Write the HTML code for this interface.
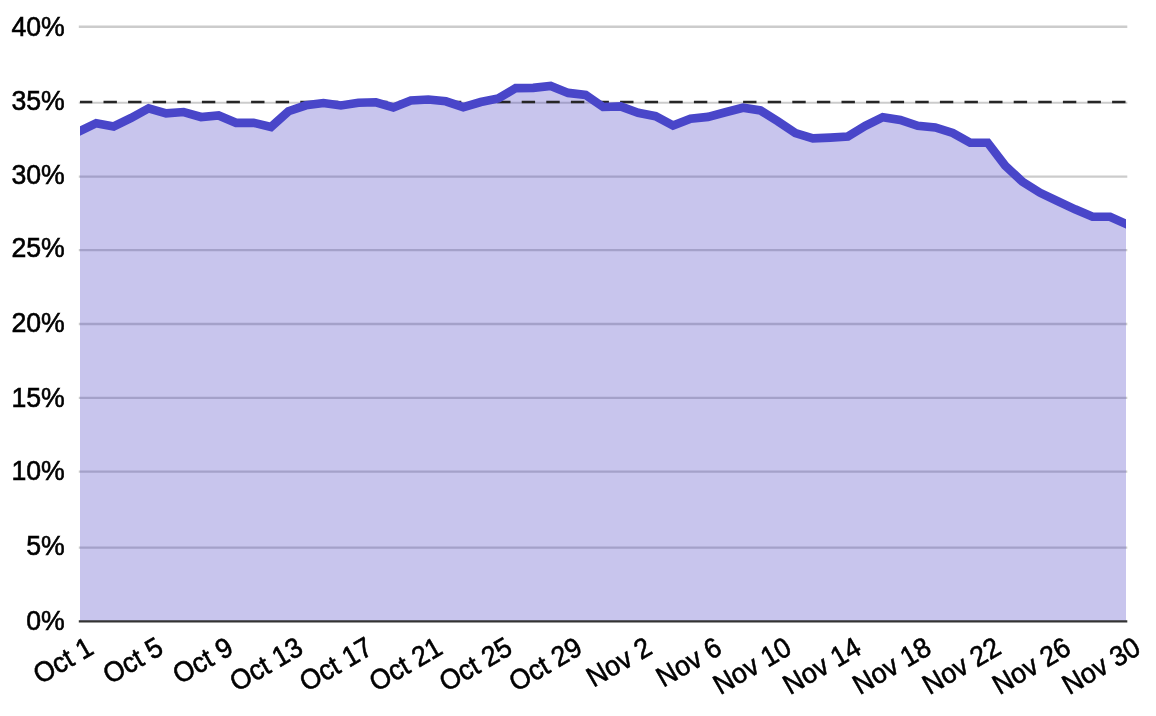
<!DOCTYPE html>
<html lang="en"><head><meta charset="utf-8"><title>Chart</title>
<style>
html,body{margin:0;padding:0;background:#fff;}
body{width:1156px;height:716px;overflow:hidden;}
svg{display:block;}
text{font-family:"Liberation Sans",Arial,sans-serif;font-size:28.1px;fill:#000;stroke:#000;stroke-width:0.6px;}
</style></head><body>
<svg width="1156" height="716" viewBox="0 0 1156 716">
<rect x="0" y="0" width="1156" height="716" fill="#ffffff"/>

<g stroke="#cccccc" stroke-width="2.3">
<line x1="78.8" y1="26.76" x2="1127.3" y2="26.76"/>
<line x1="78.8" y1="102.7" x2="1127.3" y2="102.7" stroke-width="1.9"/>
<line x1="78.8" y1="176.60" x2="1127.3" y2="176.60"/>
<line x1="78.8" y1="250.20" x2="1127.3" y2="250.20"/>
<line x1="78.8" y1="324.00" x2="1127.3" y2="324.00"/>
<line x1="78.8" y1="397.90" x2="1127.3" y2="397.90"/>
<line x1="78.8" y1="471.70" x2="1127.3" y2="471.70"/>
<line x1="78.8" y1="547.70" x2="1127.3" y2="547.70"/>
</g>
<clipPath id="cp"><rect x="80" y="0" width="1046" height="716"/></clipPath>
<path clip-path="url(#cp)" d="M78.73,621.40 L78.73,131.60 L96.21,123.20 L113.69,126.40 L131.17,118.00 L148.65,108.30 L166.13,113.40 L183.61,112.00 L201.09,117.00 L218.57,115.50 L236.05,122.80 L253.53,122.80 L271.01,127.00 L288.49,111.20 L305.97,105.30 L323.45,103.00 L340.93,105.50 L358.41,102.80 L375.89,102.30 L393.37,107.50 L410.85,100.50 L428.33,99.50 L445.81,101.30 L463.29,107.10 L480.77,102.00 L498.25,98.50 L515.73,88.10 L533.21,87.90 L550.69,86.00 L568.17,92.90 L585.65,95.00 L603.13,107.00 L620.61,106.40 L638.09,112.70 L655.57,116.20 L673.05,125.60 L690.53,118.70 L708.01,116.90 L725.49,112.30 L742.97,107.70 L760.45,110.50 L777.93,121.30 L795.41,133.10 L812.89,138.40 L830.37,137.60 L847.85,136.50 L865.33,125.90 L882.81,117.20 L900.29,119.90 L917.77,125.80 L935.25,127.40 L952.73,132.90 L970.21,142.70 L987.69,142.70 L1005.17,165.70 L1022.65,181.90 L1040.13,192.80 L1057.61,201.20 L1075.09,209.30 L1092.57,216.70 L1110.05,216.70 L1127.53,224.60 L1127.53,621.40 Z" fill="#4840c4" fill-opacity="0.3"/>
<line x1="78.8" y1="621.40" x2="1127.3" y2="621.40" stroke="#333333" stroke-width="2.3"/>
<line clip-path="url(#cp)" x1="78.9" y1="102.0" x2="1128" y2="102.0" stroke="#262626" stroke-width="2.7" stroke-dasharray="13.4 11.2"/>
<polyline clip-path="url(#cp)" points="61.25,140.00 78.73,131.60 96.21,123.20 113.69,126.40 131.17,118.00 148.65,108.30 166.13,113.40 183.61,112.00 201.09,117.00 218.57,115.50 236.05,122.80 253.53,122.80 271.01,127.00 288.49,111.20 305.97,105.30 323.45,103.00 340.93,105.50 358.41,102.80 375.89,102.30 393.37,107.50 410.85,100.50 428.33,99.50 445.81,101.30 463.29,107.10 480.77,102.00 498.25,98.50 515.73,88.10 533.21,87.90 550.69,86.00 568.17,92.90 585.65,95.00 603.13,107.00 620.61,106.40 638.09,112.70 655.57,116.20 673.05,125.60 690.53,118.70 708.01,116.90 725.49,112.30 742.97,107.70 760.45,110.50 777.93,121.30 795.41,133.10 812.89,138.40 830.37,137.60 847.85,136.50 865.33,125.90 882.81,117.20 900.29,119.90 917.77,125.80 935.25,127.40 952.73,132.90 970.21,142.70 987.69,142.70 1005.17,165.70 1022.65,181.90 1040.13,192.80 1057.61,201.20 1075.09,209.30 1092.57,216.70 1110.05,216.70 1127.53,224.60 1145.01,232.50" fill="none" stroke="#4946c9" stroke-width="8.65" stroke-linejoin="miter" stroke-linecap="butt"/>
<g text-anchor="end">
<text transform="translate(64.8,35.66) scale(0.95,1)" x="0" y="0">40%</text>
<text transform="translate(64.8,109.69) scale(0.95,1)" x="0" y="0">35%</text>
<text transform="translate(64.8,184.02) scale(0.95,1)" x="0" y="0">30%</text>
<text transform="translate(64.8,257.45) scale(0.95,1)" x="0" y="0">25%</text>
<text transform="translate(64.8,331.78) scale(0.95,1)" x="0" y="0">20%</text>
<text transform="translate(64.8,406.61) scale(0.95,1)" x="0" y="0">15%</text>
<text transform="translate(64.8,479.94) scale(0.95,1)" x="0" y="0">10%</text>
<text transform="translate(64.8,554.67) scale(0.95,1)" x="0" y="0">5%</text>
<text transform="translate(64.8,629.50) scale(0.95,1)" x="0" y="0">0%</text>
</g>
<g text-anchor="end">
<text transform="translate(95.40,652.90) rotate(-30) scale(0.95,1)" x="0" y="0">Oct 1</text>
<text transform="translate(165.20,652.90) rotate(-30) scale(0.95,1)" x="0" y="0">Oct 5</text>
<text transform="translate(235.00,652.90) rotate(-30) scale(0.95,1)" x="0" y="0">Oct 9</text>
<text transform="translate(304.80,652.90) rotate(-30) scale(0.95,1)" x="0" y="0">Oct 13</text>
<text transform="translate(374.60,652.90) rotate(-30) scale(0.95,1)" x="0" y="0">Oct 17</text>
<text transform="translate(444.40,652.90) rotate(-30) scale(0.95,1)" x="0" y="0">Oct 21</text>
<text transform="translate(514.20,652.90) rotate(-30) scale(0.95,1)" x="0" y="0">Oct 25</text>
<text transform="translate(584.00,652.90) rotate(-30) scale(0.95,1)" x="0" y="0">Oct 29</text>
<text transform="translate(653.80,652.90) rotate(-30) scale(0.95,1)" x="0" y="0">Nov 2</text>
<text transform="translate(723.60,652.90) rotate(-30) scale(0.95,1)" x="0" y="0">Nov 6</text>
<text transform="translate(793.40,652.90) rotate(-30) scale(0.95,1)" x="0" y="0">Nov 10</text>
<text transform="translate(863.20,652.90) rotate(-30) scale(0.95,1)" x="0" y="0">Nov 14</text>
<text transform="translate(933.00,652.90) rotate(-30) scale(0.95,1)" x="0" y="0">Nov 18</text>
<text transform="translate(1002.80,652.90) rotate(-30) scale(0.95,1)" x="0" y="0">Nov 22</text>
<text transform="translate(1072.60,652.90) rotate(-30) scale(0.95,1)" x="0" y="0">Nov 26</text>
<text transform="translate(1142.40,652.90) rotate(-30) scale(0.95,1)" x="0" y="0">Nov 30</text>
</g>
</svg></body></html>
